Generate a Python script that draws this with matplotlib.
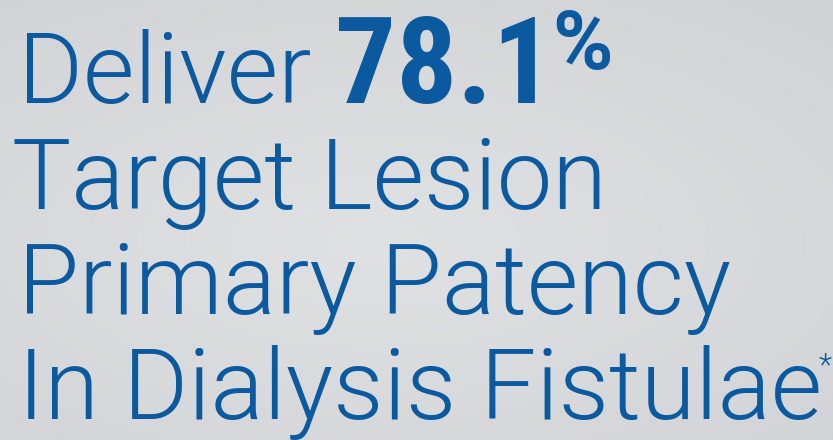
import numpy as np
import matplotlib
matplotlib.use("Agg")
import matplotlib.pyplot as plt

# Text content of the panel
lead_word = "Deliver"
headline_value = "78.1"
headline_unit = "%"
body_lines = ["Target Lesion", "Primary Patency", "In Dialysis Fistulae"]
footnote_mark = "*"

blue = "#0b5a9f"
W, H = 833, 440

fig = plt.figure(figsize=(W / 100, H / 100), dpi=100)

# Soft grey background, a little lighter in the middle
bg = fig.add_axes([0, 0, 1, 1])
yy, xx = np.mgrid[0:1:200j, 0:1:300j]
r = np.sqrt(((xx - 0.45) / 0.8) ** 2 + ((yy - 0.55) / 0.7) ** 2)
shade = np.clip(1 - r, 0, 1)
lo = np.array([0xd2, 0xd3, 0xd6]) / 255
hi = np.array([0xe0, 0xe1, 0xe3]) / 255
img = lo + (hi - lo) * shade[..., None]
bg.imshow(img, extent=[0, 1, 0, 1], aspect="auto", origin="upper")
bg.set_axis_off()


def fx(px):
    return px / W


def fy(py):
    return 1 - py / H


light = dict(family="Roboto", weight=300, color=blue, fontsize=71.5, va="baseline", ha="left")

# line 1
fig.text(fx(18), fy(103), lead_word, **light)
fig.text(fx(335), fy(103), headline_value, family="Roboto Condensed", weight=700,
         color=blue, fontsize=87, va="baseline", ha="left")
fig.text(fx(552), fy(69), headline_unit, family="Roboto", weight=600,
         color=blue, fontsize=59, va="baseline", ha="left")

# remaining lines
baselines = [209, 314, 419]
for txt, b in zip(body_lines, baselines):
    fig.text(fx(12 if txt.startswith("T") else 18), fy(b), txt, **light)

fig.text(fx(819), fy(374), footnote_mark, family="Roboto", weight=300,
         color=blue, fontsize=22, va="baseline", ha="left")

fig.savefig("out.png", dpi=100)
